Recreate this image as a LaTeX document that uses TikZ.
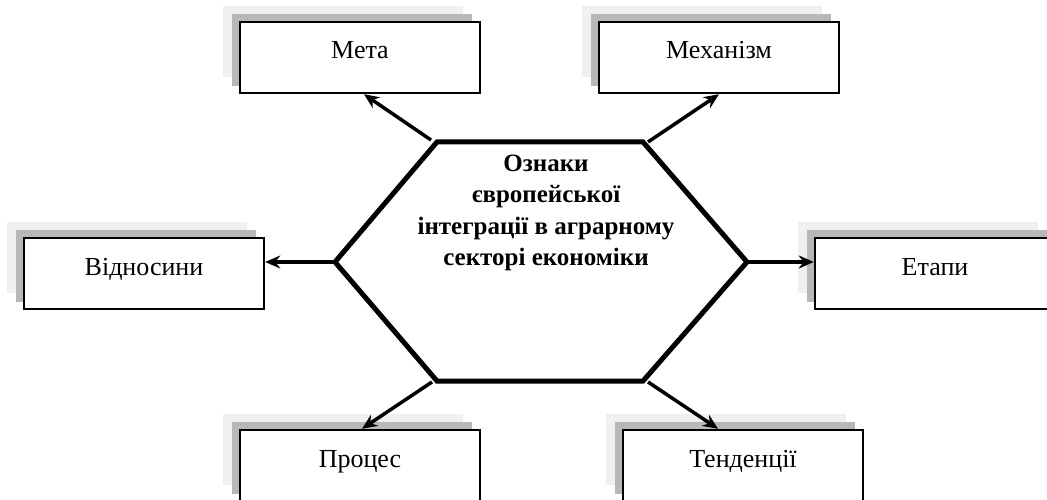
\documentclass[tikz,border=0pt]{standalone}
\usepackage{fontspec}
\setmainfont{Liberation Serif}
\usetikzlibrary{arrows.meta,calc}
\definecolor{shlight}{HTML}{F0F0F0}
\definecolor{shdark}{HTML}{B8B8B8}
\tikzset{
  box/.style={draw=black,line width=2.5pt,fill=white,minimum width=240pt,minimum height=71pt,
    inner sep=0pt,text height=18pt,text depth=15pt,font=\fontsize{26pt}{30pt}\selectfont},
  conn/.style={line width=3.5pt,-{Stealth[length=15pt,width=13pt]}},
  hexline/.style={line width=5pt,line join=miter},
}
\begin{document}
\begin{tikzpicture}[x=1pt,y=-1pt]
\useasboundingbox (0,0) rectangle (1047,500);
% shadows
\foreach \cx/\cy in {360/57.5,719/57.5,144/273.5,935/273.5,360/465.5,743/465.5}{
  \fill[shlight] (\cx-137,\cy-51.5) rectangle (\cx+103,\cy+19.5);
  \fill[shdark] (\cx-128,\cy-43.5) rectangle (\cx+112,\cy+28.5);
}
% boxes
\node[box] (meta) at (360,57.5) {Мета};
\node[box] (mech) at (719,57.5) {Механізм};
\node[box] (vidn) at (144,273.5) {Відносини};
\node[box] (etap) at (935,273.5) {Етапи};
\node[box] (proc) at (360,465.5) {Процес};
\node[box] (tend) at (743,465.5) {Тенденції};
% hexagon vertices
\coordinate (hl) at (335,262);
\coordinate (htl) at (437,142);
\coordinate (htr) at (643,142);
\coordinate (hr) at (747,262);
\coordinate (hbr) at (643,381);
\coordinate (hbl) at (437,381);
% connectors
\draw[conn] ($(htl)+(-6,-2)$) -- ($(meta.south)+(4,0)$);
\draw[conn] ($(htr)+(5,0)$) -- (mech.south);
\draw[conn] (hl) -- (hl -| vidn.east);
\draw[conn] (hr) -- (hr -| etap.west);
\draw[conn] ($(hbl)+(-5,1)$) -- ($(proc.north)+(2,0)$);
\draw[conn] ($(hbr)+(5,1)$) -- ($(tend.north)+(-25,0)$);
% hexagon
\draw[hexline,fill=white] (hl) -- (htl) -- (htr) -- (hr) -- (hbr) -- (hbl) -- cycle;
\node[align=center,font=\bfseries\fontsize{25pt}{31.5pt}\selectfont,anchor=north] (title) at (546,151)
  {Ознаки\\європейської\\інтеграції в аграрному\\секторі економіки};
\end{tikzpicture}
\end{document}
